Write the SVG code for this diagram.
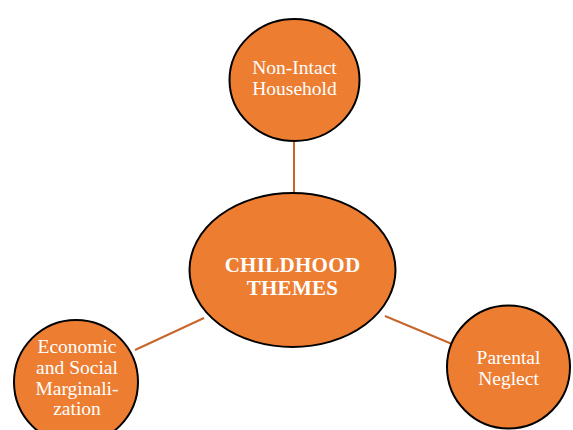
<svg xmlns="http://www.w3.org/2000/svg" width="573" height="430" viewBox="0 0 573 430">
<style>
.node{fill:#ED7D31;stroke:#000;stroke-width:2}
.lbl{font-family:"Liberation Serif","Times New Roman",serif;font-size:19.5px;fill:#fff;text-anchor:middle}
.ctr{font-family:"Liberation Serif","Times New Roman",serif;font-size:21px;font-weight:bold;fill:#fff;text-anchor:middle;letter-spacing:0.3px}
.conn{stroke:#C8652A;stroke-width:2;fill:none}
</style>
<rect width="573" height="430" fill="#fff"/>
<g id="connectors">
<line class="conn" x1="294" y1="140" x2="294" y2="193"/>
<line class="conn" x1="135" y1="350" x2="204" y2="318"/>
<line class="conn" x1="385" y1="316" x2="452" y2="344"/>
</g>
<g id="top">
<ellipse class="node" cx="294.5" cy="80" rx="65" ry="61"/>
<text class="lbl" x="294.5" y="74">Non-Intact</text>
<text class="lbl" x="294.5" y="95">Household</text>
</g>
<g id="center">
<ellipse class="node" cx="292.5" cy="270" rx="103" ry="77"/>
<text class="ctr" x="292.5" y="272">CHILDHOOD</text>
<text class="ctr" x="292.5" y="295">THEMES</text>
</g>
<g id="left">
<circle class="node" cx="76" cy="382" r="62"/>
<text class="lbl" x="77" y="353">Economic</text>
<text class="lbl" x="77" y="374">and Social</text>
<text class="lbl" x="77" y="395">Marginali-</text>
<text class="lbl" x="77" y="415">zation</text>
</g>
<g id="right">
<circle class="node" cx="508.5" cy="367" r="61.5"/>
<text class="lbl" x="508.5" y="364">Parental</text>
<text class="lbl" x="508.5" y="385">Neglect</text>
</g>
</svg>
